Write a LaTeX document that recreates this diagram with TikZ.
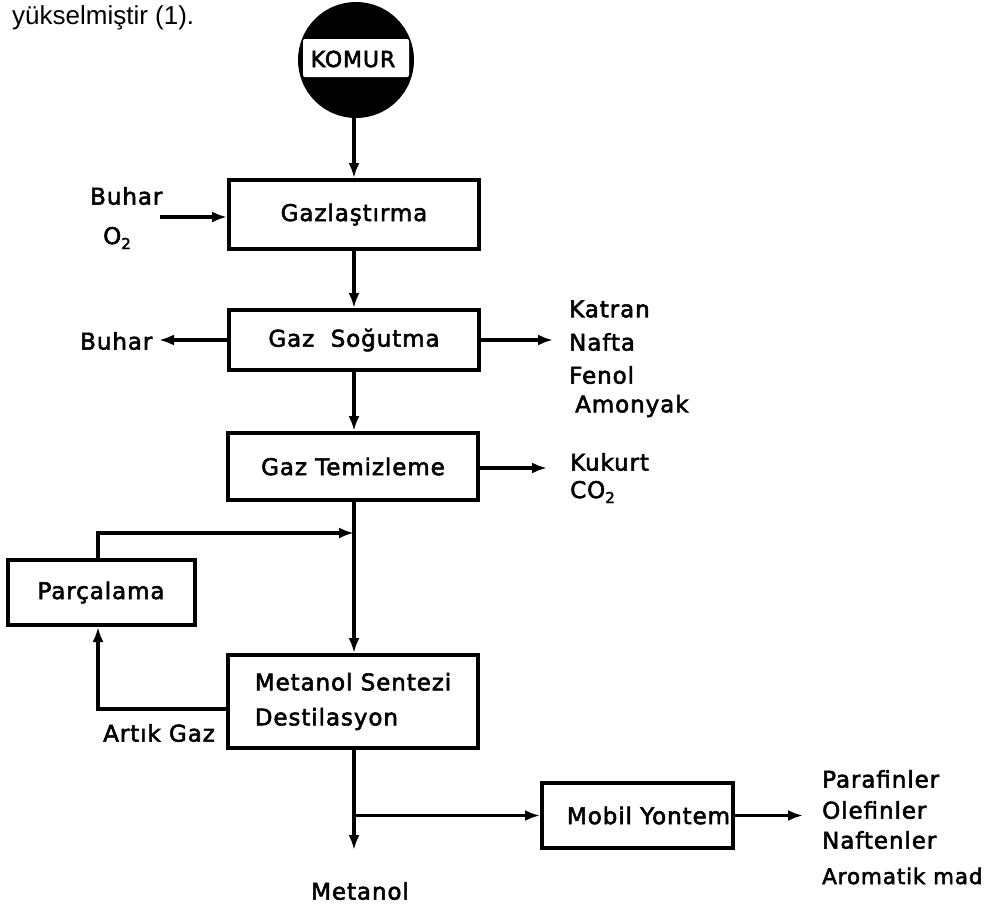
\documentclass[tikz,border=0pt]{standalone}
\usepackage{fontspec}
\setmainfont{DejaVu Sans}[LetterSpace=4,FakeBold=2.4]
\newfontfamily\headfont{Liberation Sans}
\usetikzlibrary{arrows.meta,calc}
\begin{document}
\begin{tikzpicture}[x=1pt,y=-1pt,
  box/.style={draw, line width=4pt, inner sep=0pt, font=\fontsize{23}{27}\selectfont},
  arr/.style={line width=3.4pt, -{Latex[length=15pt,width=11pt]}},
  lbl/.style={font=\fontsize{23}{27}\selectfont, inner sep=0pt, anchor=west}]
\useasboundingbox (0,0) rectangle (993,919);
\node[font=\headfont\fontsize{26}{30}\selectfont, anchor=west, inner sep=0pt] (head) at (12,18) {yükselmiştir (1).};
% KOMUR
\node[circle, fill=black, minimum size=116pt, inner sep=0pt] (komur) at (356,60) {};
\fill[white, rounded corners=2pt] (303,39) rectangle (409,77);
\node[font=\fontsize{22}{25}\selectfont, inner sep=0pt] (komurtxt) at (353,59) {KOMUR};
% boxes
\node[box, minimum width=250pt, minimum height=69pt] (gazl) at (354,214.5) {Gazlaştırma};
\node[box, minimum width=250pt, minimum height=60pt] (sog) at (354,340) {Gaz\ \ Soğutma};
\node[box, minimum width=250pt, minimum height=67pt] (tem) at (353,466.5) {Gaz Temizleme};
\node[box, minimum width=187pt, minimum height=65pt] (parc) at (101,592.5) {Parçalama};
\node[box, minimum width=250pt, minimum height=93pt, align=left, font=\fontsize{23}{35}\selectfont] (met) at (353,701.5) {Metanol Sentezi\\Destilasyon};
\node[box, minimum width=191pt, minimum height=65pt] (mob) at (637.5,815.5) {\hspace*{22pt}Mobil Yontem};
% spine
\coordinate (sp) at (354,0);
\coordinate (j1) at (354,533);
\coordinate (j2) at (354,815.5);
\coordinate (b1) at (160,217);
\coordinate (e1) at (159,340);
\coordinate (e2) at (553,340);
\coordinate (e3) at (547,468);
\coordinate (e4) at (354,850);
\coordinate (e5) at (803,815.5);
\draw[arr] (sp |- komur.south) -- (sp |- gazl.north);
\draw[arr] (sp |- gazl.south) -- (sp |- sog.north);
\draw[arr] (sp |- sog.south) -- (sp |- tem.north);
\draw[arr] (sp |- tem.south) -- (sp |- met.north);
\draw[arr] ([xshift=-3pt]parc.north) |- (j1);
\draw[arr] ([yshift=-7.5pt]met.west) -| ([xshift=-3pt]parc.south);
\draw[arr] (sp |- met.south) -- (e4);
\draw[arr] (j2) -- (mob.west);
\draw[arr] (mob.east) -- (e5);
\draw[arr] (b1) -- (b1 -| gazl.west);
\draw[arr] (sog.west) -- (e1);
\draw[arr] (sog.east) -- (e2);
\draw[arr] (tem.east |- e3) -- (e3);
% labels
\node[lbl] (buh1) at (90,196) {Buhar};
\node[lbl] (o2) at (103,238) {O{\fontsize{15}{15}\selectfont\raisebox{-5pt}{2}}};
\node[lbl] (buh2) at (80,341) {Buhar};
\node[lbl] (katran) at (569,309) {Katran};
\node[lbl] (nafta) at (569,342) {Nafta};
\node[lbl] (fenol) at (569,375) {Fenol};
\node[lbl] (amon) at (575,406) {Amonyak};
\node[lbl] (kuk) at (570,462) {Kukurt};
\node[lbl] (co2) at (570,492) {CO{\fontsize{15}{15}\selectfont\raisebox{-5pt}{2}}};
\node[lbl] (artik) at (103,733) {Artık Gaz};
\node[lbl, anchor=center] (metl) at (360,891) {Metanol};
\node[lbl] (par) at (822,779) {Parafinler};
\node[lbl] (ole) at (822,810) {Olefinler};
\node[lbl] (naf) at (822,840) {Naftenler};
\node[lbl, font=\fontsize{21.5}{25}\selectfont] (aro) at (822,876) {Aromatik mad};
\end{tikzpicture}
\end{document}
